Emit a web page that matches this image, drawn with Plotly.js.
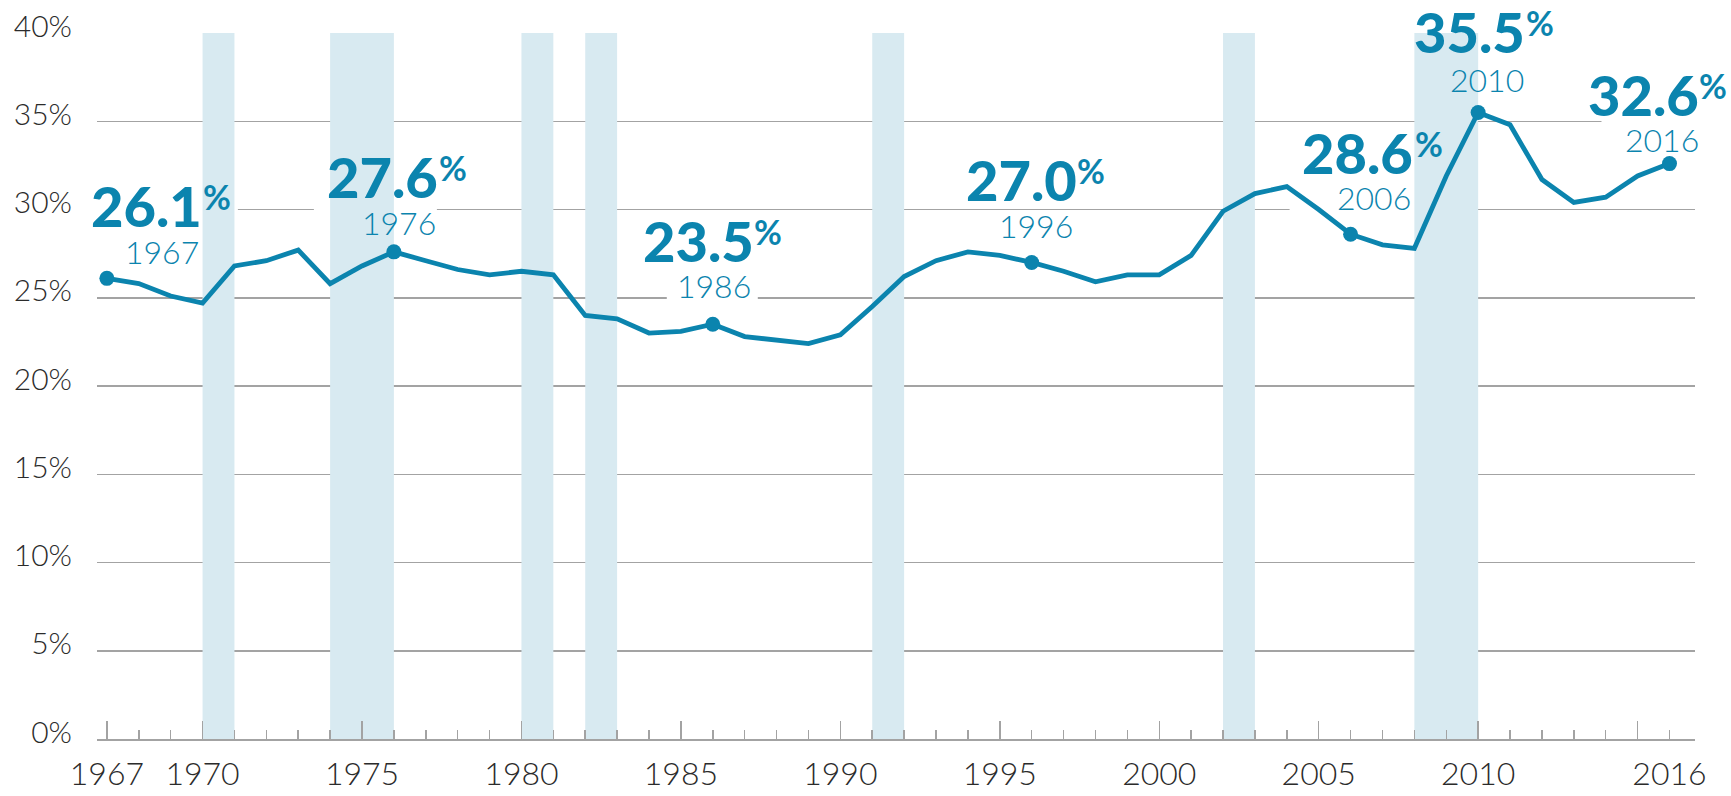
<!DOCTYPE html>
<html>
<head>
<meta charset="utf-8">
<script src="https://cdn.plot.ly/plotly-3.0.1.min.js"></script>
<style>
  html, body { margin: 0; padding: 0; background: #fff; }
  #chart { width: 1731px; height: 796px; }
</style>
</head>
<body>
<div id="chart"></div>
<script>
// ---------- DATA ----------
const years = [1967, 1968, 1969, 1970, 1971, 1972, 1973, 1974, 1975, 1976,
               1977, 1978, 1979, 1980, 1981, 1982, 1983, 1984, 1985, 1986,
               1987, 1988, 1989, 1990, 1991, 1992, 1993, 1994, 1995, 1996,
               1997, 1998, 1999, 2000, 2001, 2002, 2003, 2004, 2005, 2006,
               2007, 2008, 2009, 2010, 2011, 2012, 2013, 2014, 2015, 2016];
const shares = [26.1, 25.8, 25.1, 24.7, 26.8, 27.1, 27.7, 25.8, 26.8, 27.6,
                27.1, 26.6, 26.3, 26.5, 26.3, 24.0, 23.8, 23.0, 23.1, 23.5,
                22.8, 22.6, 22.4, 22.9, 24.5, 26.2, 27.1, 27.6, 27.4, 27.0,
                26.5, 25.9, 26.3, 26.3, 27.4, 29.9, 30.9, 31.3, 30.0, 28.6,
                28.0, 27.8, 31.9, 35.5, 34.8, 31.7, 30.4, 30.7, 31.9, 32.6];
const highlightYears = [1967, 1976, 1986, 1996, 2006, 2010, 2016];
const recessionStart = [1970, 1974, 1980, 1982, 1991, 2002, 2008];
const recessionEnd   = [1971, 1976, 1981, 1983, 1992, 2003, 2010];
const xLabelYears = [1967, 1970, 1975, 1980, 1985, 1990, 1995, 2000, 2005, 2010, 2016];
const xMajorTickYears = [1967, 1970, 1975, 1980, 1985, 1990, 1995, 2000, 2005, 2010, 2015];
const yTickValues = [0, 5, 10, 15, 20, 25, 30, 35, 40];
const yTickLabels = ['0%', '5%', '10%', '15%', '20%', '25%', '30%', '35%', '40%'];

// ---------- STYLE ----------
const BLUE = '#0b84ae';
const BAND = '#d8eaf1';
const GRID = '#a3a3a3';
const TXT = '#2b2b2b';
const FONT = 'Lato, "Open Sans", "DejaVu Sans", sans-serif';

// label placement (pixel offsets from the highlighted point)
// num/pct/yr: [xshift, yshift]; box: [left, right, bottom, top] pixels
const labelPlacement = {
  1967: {num: [97, 73], pct: [94, 82], yr: [94, 27], box: [-20, 131, 45, 75]},
  1976: {num: [46, 75], pct: [43, 84], yr: [44, 29], box: [-80, 43, 30, 60]},
  1986: {num: [43, 84], pct: [39, 93], yr: [40, 39], box: [-46, 45, 18, 50]},
  1996: {num: [47, 83], pct: [43, 92], yr: [43, 37], box: null},
  2006: {num: [64, 82], pct: [62, 91], yr: [62, 37], box: [-61, 66, 14, 40]},
  2010: {num: [49, 81], pct: [46, 90], yr: [48, 33], box: [-78, 80, 65, 95]},
  2016: {num: [32, 69], pct: [28, 78], yr: [32, 24], box: [-68, 40, 35, 50]}
};

const valueOf = y => shares[years.indexOf(y)];
const xRange = [1966.69, 2016.8];

const shapes = [];
const annotations = [];
highlightYears.forEach(yr => {
  const p = labelPlacement[yr];
  const v = valueOf(yr);
  if (p.box) {
    shapes.push({
      type: 'rect', layer: 'between',
      xref: 'x', yref: 'y',
      xsizemode: 'pixel', ysizemode: 'pixel',
      xanchor: yr, yanchor: v,
      x0: p.box[0], x1: p.box[1], y0: p.box[2], y1: p.box[3],
      fillcolor: '#ffffff', line: {width: 0}
    });
  }
  annotations.push({
    x: yr, y: v, xref: 'x', yref: 'y', showarrow: false,
    text: v.toFixed(1), xanchor: 'right', yanchor: 'middle',
    xshift: p.num[0], yshift: p.num[1],
    font: {family: FONT, size: 56, weight: 900, color: BLUE}
  });
  annotations.push({
    x: yr, y: v, xref: 'x', yref: 'y', showarrow: false,
    text: '%', xanchor: 'left', yanchor: 'middle',
    xshift: p.pct[0], yshift: p.pct[1],
    font: {family: FONT, size: 34, weight: 700, color: BLUE}
  });
  annotations.push({
    x: yr, y: v, xref: 'x', yref: 'y', showarrow: false,
    text: String(yr), xanchor: 'right', yanchor: 'middle',
    xshift: p.yr[0], yshift: p.yr[1],
    font: {family: FONT, size: 32, weight: 300, color: BLUE}
  });
});

// recession bands drawn over the white label boxes, under the line
recessionStart.forEach((s, i) => {
  shapes.push({
    type: 'rect', layer: 'between', xref: 'x', yref: 'y',
    x0: s, x1: recessionEnd[i], y0: 0, y1: 40,
    fillcolor: BAND, line: {width: 0}
  });
});

const traces = [
  {
    x: years, y: shares, type: 'scatter', mode: 'lines',
    line: {color: BLUE, width: 4.8}, hoverinfo: 'skip', showlegend: false
  },
  {
    x: highlightYears, y: highlightYears.map(valueOf), type: 'scatter', mode: 'markers',
    marker: {color: BLUE, size: 15}, hoverinfo: 'skip', showlegend: false
  },
  { // carrier for long tick marks
    x: [xRange[0]], y: [0], xaxis: 'x2', yaxis: 'y', type: 'scatter', mode: 'markers',
    marker: {opacity: 0}, hoverinfo: 'skip', showlegend: false
  }
];

const layout = {
  width: 1731, height: 796,
  margin: {l: 97, r: 36, t: 33, b: 57, pad: 0},
  paper_bgcolor: '#ffffff', plot_bgcolor: '#ffffff',
  showlegend: false,
  font: {family: FONT, color: TXT},
  xaxis: {
    range: xRange, tickmode: 'array', tickvals: xLabelYears,
    ticktext: xLabelYears.map(String),
    ticks: 'inside', ticklen: 9, tickwidth: 1.5, tickcolor: GRID,
    minor: {ticks: 'inside', tickmode: 'linear', tick0: 1967, dtick: 1,
            ticklen: 9, tickwidth: 1.5, tickcolor: GRID, showgrid: false},
    showgrid: false, zeroline: false,
    showline: true, linecolor: GRID, linewidth: 1.5,
    tickfont: {family: FONT, size: 32, weight: 300, color: TXT},
    ticklabelstandoff: 6, fixedrange: true
  },
  xaxis2: {
    range: xRange, overlaying: 'x', anchor: 'y', side: 'bottom',
    tickmode: 'array', tickvals: xMajorTickYears,
    ticks: 'inside', ticklen: 18, tickwidth: 1.5, tickcolor: GRID,
    showticklabels: false, showgrid: false, zeroline: false, showline: false
  },
  yaxis: {
    range: [0, 40], tickmode: 'array', tickvals: yTickValues, ticktext: yTickLabels,
    ticks: '', showgrid: true, gridcolor: GRID, gridwidth: 1.5,
    zeroline: false, showline: false,
    tickfont: {family: FONT, size: 30, weight: 300, color: TXT},
    ticklabelstandoff: 24, ticklabelshift: -7, fixedrange: true
  },
  shapes: shapes,
  annotations: annotations
};

Plotly.newPlot('chart', traces, layout, {displayModeBar: false, staticPlot: true});
</script>
</body>
</html>
